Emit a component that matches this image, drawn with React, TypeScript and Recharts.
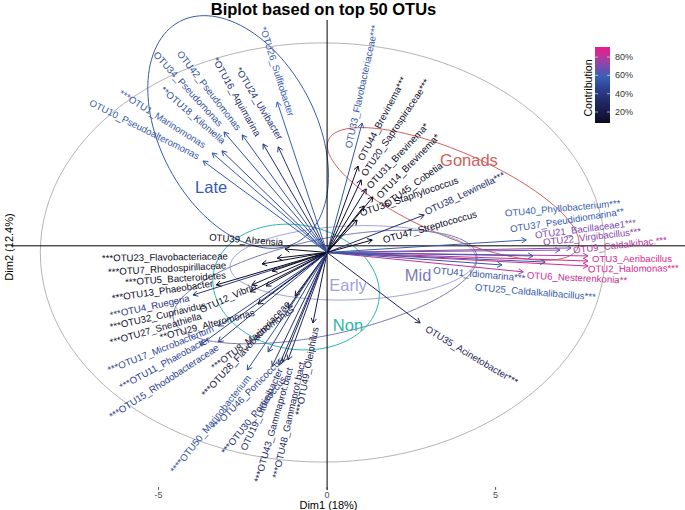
import {
    ScatterChart,
    Scatter,
    XAxis,
    YAxis,
    ReferenceLine,
    ReferenceArea,
    ReferenceDot
} from 'recharts';

const FONT = '"Liberation Sans", Arial, Helvetica, sans-serif';

// OTU loadings (Dim1, Dim2) and contribution (%), OTU1..OTU50
const otuLabels = [
    '***OTU1_Marinomonas', 'OTU2_Halomonas***', 'OTU3_Aeribacillus', '***OTU4_Ruegeria', '***OTU5_Bacteroidetes',
    'OTU6_Nesterenkonia**', '***OTU7_Rhodospirillaceae', '***OTU8_Marinomonas', 'OTU9_Caldalkibac.***', 'OTU10_Pseudoalteromonas',
    '***OTU11_Phaeobacter', 'OTU12_Vibrio', '***OTU13_Phaeobacter', 'OTU14_Brevinema*', '***OTU15_Rhodobacteraceae',
    '*OTU16_Aquimarina', '***OTU17_Microbacterium', '**OTU18_Kiloniella', 'OTU19_Litoreibacter', 'OTU20_Saprospiraceae***',
    'OTU21_Bacillaceae1***', 'OTU22_Virgibacillus***', '***OTU23_Flavobacteriaceae', '*OTU24_Ulvibacter', 'OTU25_Caldalkalibacillus***',
    '*OTU26_Sulfitobacter', '***OTU27_Sneathiella', '***OTU28_Flavobacteriaceae', '**OTU29_Alteromonas', '***OTU30_Porticoccus',
    'OTU31_Brevinema*', '***OTU32_Cupriavidus', 'OTU33_Flavobacteriaceae***', 'OTU34_Pseudomonas', 'OTU35_Acinetobacter***',
    'OTU36_Staphylococcus', 'OTU37_Pseudidiomarina**', 'OTU38_Lewinella***', 'OTU39_Ahrensia', 'OTU40_Phyllobacterium***',
    'OTU41_Idiomarina***', 'OTU42_Pseudomonas', '***OTU43_Gammaprot.bact', 'OTU44_Brevinema***', 'OTU45_Cobetia',
    '***OTU46_Porticoccus', 'OTU47_Streptococcus', '***OTU48_Gammaprot.bact.', '***OTU49_Oleiphilus', '****OTU50_Marinobacterium'
];

const dim1 = [
    -3.41, 7.74, 7.74, -3.98, -1.63, 5.82, -1.93, -1.16, 7.74, -3.68,
    -3.23, -1.81, -3.29, 1.36, -3.77, -1.90, -3.23, -3.12, -1.42, 1.01,
    6.91, 7.24, -1.48, -1.45, 6.47, -1.48, -2.28, -0.95, -2.05, -1.63,
    1.16, -2.23, 1.04, -3.06, 2.76, 0.89, 6.11, 2.88, -1.25, 5.91,
    5.19, -2.52, -1.31, 0.92, 1.10, -1.75, 1.34, -1.16, -0.42, -2.37
];

const dim2 = [
    3.74, -0.51, -0.32, -1.60, -0.70, -0.73, -0.43, -2.09, -0.13, 3.44,
    -3.36, -1.26, -1.22, 2.09, -3.48, 4.08, -2.77, 3.82, -4.23, 2.73,
    0.09, 0.17, -0.21, 3.97, -0.36, 5.66, -1.48, -1.64, -1.94, -4.27,
    2.39, -1.22, 4.87, 4.53, -2.65, 1.22, -0.13, 1.41, 0.13, 0.47,
    -0.47, 4.42, -4.12, 3.25, 1.75, -3.74, 0.47, -4.04, -2.65, -4.42
];

const contribution = [
    55, 86, 86, 40, 8, 82, 8, 14, 79, 55,
    45, 10, 9, 8, 45, 35, 47, 50, 34, 10,
    70, 72, 9, 38, 55, 58, 12, 14, 12, 36,
    8, 11, 55, 52, 28, 6, 56, 32, 8, 57,
    54, 52, 30, 12, 6, 44, 5, 30, 20, 52
];

// where each (repelled) label starts and ends, in Dim1/Dim2 units
const labelStart = [
    [-6.14, 6.03], [7.74, -0.62], [7.86, -0.21], [-6.44, -2.35], [-5.99, -1.11],
    [5.93, -0.85], [-6.50, -0.73], [-3.41, -4.34], [7.30, 0.09], [-7.03, 5.66],
    [-6.14, -5.06], [-3.77, -2.16], [-6.38, -1.71], [1.51, 2.09], [-6.44, -6.18],
    [-3.32, 7.31], [-6.50, -4.42], [-4.90, 6.18], [-2.49, -7.42], [1.07, 2.91],
    [6.17, 0.66], [6.41, 0.39], [-6.68, -0.21], [-2.64, 6.94], [4.39, -1.30],
    [-1.90, 8.48], [-6.44, -3.37], [-3.68, -5.36], [-4.96, -3.18], [-3.09, -7.54],
    [1.22, 2.46], [-6.44, -2.80], [0.62, 3.93], [-5.10, 7.50], [2.94, -2.84],
    [0.98, 1.48], [5.43, 0.88], [2.91, 1.52], [-3.50, 0.58], [5.28, 1.48],
    [3.15, -0.66], [-4.39, 7.54], [-2.08, -8.63], [0.98, 3.48], [1.72, 1.79],
    [-3.38, -6.60], [1.66, 0.47], [-1.54, -8.48], [-0.86, -6.11], [-4.60, -8.25]
];

const labelEnd = [
    [-3.56, 3.97], [10.18, -0.58], [10.24, -0.21], [-4.12, -1.71], [-3.03, -0.85],
    [8.75, -1.03], [-2.97, -0.47], [-1.31, -2.35], [9.97, 0.47], [-3.77, 3.59],
    [-3.47, -3.21], [-1.90, -1.11], [-3.38, -1.15], [3.35, 4.49], [-3.18, -3.48],
    [-2.08, 4.49], [-3.38, -2.84], [-3.18, 4.30], [-1.39, -4.34], [2.97, 6.48],
    [9.44, 1.18], [9.29, 0.81], [-2.94, -0.13], [-1.39, 4.30], [8.01, -1.67],
    [-1.04, 5.06], [-3.68, -2.35], [-1.10, -1.79], [-2.23, -2.27], [-1.75, -5.43],
    [3.00, 4.87], [-3.77, -2.01], [1.42, 8.55], [-3.09, 4.72], [5.67, -4.91],
    [3.86, 2.73], [8.61, 1.52], [5.34, 2.99], [-1.34, 0.39], [8.69, 1.86],
    [5.88, -0.96], [-2.58, 4.61], [-1.19, -4.68], [2.26, 6.56], [3.44, 3.36],
    [-1.75, -4.49], [4.48, 1.48], [-0.74, -4.04], [-0.36, -2.84], [-1.78, -3.78]
];

// group confidence ellipses: centre and two conjugate semi-axes
const groups = ['Late', 'Gonads', 'Early', 'Mid', 'Non'];
const groupColors = ['#3a5aa8', '#d0605c', '#a2a2dc', '#7a7ab8', '#2cb8a8'];
const ellipseCenter = [[-2.64, 4.53], [3.74, 2.20], [0.77, -0.39], [-0.06, -1.30], [-0.92, -1.30]];
const ellipseU = [[1.74, -4.15], [3.70, -2.03], [3.65, 0.16], [4.50, 1.21], [2.45, -0.55]];
const ellipseV = [[2.04, 1.38], [-0.50, -1.45], [0.04, -1.39], [0.30, -1.76], [-0.32, -2.30]];
const groupLabelPos = [[-3.44, 2.46], [4.21, 3.48], [0.62, -1.22], [2.70, -0.85], [0.62, -2.73]];

const xTicks = [-5, 0, 5];
const yTicks = [-5, 0, 5];
const legendTicks = [20, 40, 60, 80];
const legendRange = [8, 91];

const colorStops: [number, number[]][] = [
    [0, [0, 0, 8]], [15, [20, 20, 58]], [30, [32, 39, 96]], [45, [44, 64, 144]],
    [58, [55, 96, 180]], [68, [110, 80, 178]], [76, [160, 64, 159]], [85, [212, 42, 146]],
    [95, [240, 18, 138]]
];

function contribColor(c: number): string {
    for (let i = 1; i < colorStops.length; i++) {
        const [v1, c1] = colorStops[i];
        const [v0, c0] = colorStops[i - 1];
        if (c <= v1) {
            const t = Math.max(0, (c - v0) / (v1 - v0));
            const ch = c0.map((a, k) => Math.round(a + (c1[k] - a) * t));
            return `rgb(${ch[0]},${ch[1]},${ch[2]})`;
        }
    }
    const l = colorStops[colorStops.length - 1][1];
    return `rgb(${l[0]},${l[1]},${l[2]})`;
}

const otus = otuLabels.map((label, i) => ({
    label,
    x: dim1[i],
    y: dim2[i],
    color: contribColor(contribution[i]),
    start: labelStart[i],
    end: labelEnd[i]
}));

function ArrowShape(props: any) {
    const { x1, y1, x2, y2, color } = props;
    const ang = Math.atan2(y2 - y1, x2 - x1);
    const len = 5.5;
    const a = Math.PI / 6;
    const p1 = [x2 - len * Math.cos(ang - a), y2 - len * Math.sin(ang - a)];
    const p2 = [x2 - len * Math.cos(ang + a), y2 - len * Math.sin(ang + a)];
    return (
        <g>
            <line x1={x1} y1={y1} x2={x2} y2={y2} stroke={color} strokeWidth={1} />
            <polyline points={`${p1[0]},${p1[1]} ${x2},${y2} ${p2[0]},${p2[1]}`} fill="none" stroke={color} strokeWidth={1} />
        </g>
    );
}

function LabelShape(props: any) {
    const { x1, y1, x2, y2, color, text } = props;
    const deg = Math.atan2(y2 - y1, x2 - x1) * 180 / Math.PI;
    return (
        <text x={x1} y={y1} transform={`rotate(${deg} ${x1} ${y1})`} fill={color}
            fontSize={9.6} fontFamily={FONT} dominantBaseline="central">{text}</text>
    );
}

function EllipseShape(props: any) {
    const { x, y, width, height, u, v, color } = props;
    const cx = x + width / 2, cy = y + height / 2;
    const sx = Math.abs(width) / 2, sy = Math.abs(height) / 2;
    const pts: string[] = [];
    for (let k = 0; k <= 120; k++) {
        const t = (k / 120) * Math.PI * 2;
        const dx = Math.cos(t) * u[0] + Math.sin(t) * v[0];
        const dy = Math.cos(t) * u[1] + Math.sin(t) * v[1];
        pts.push(`${cx + dx * sx},${cy - dy * sy}`);
    }
    return <polyline points={pts.join(' ')} fill="none" stroke={color} strokeWidth={1} />;
}

const XTick = (p: any) => (
    <g>
        <line x1={p.x} x2={p.x} y1={p.y - 3} y2={p.y} stroke="#333" strokeWidth={0.8} />
        <text x={p.x} y={p.y + 5} textAnchor="middle" dominantBaseline="central"
            fontSize={9} fontFamily={FONT} fill="#4d4d4d">{p.payload.value}</text>
    </g>
);

const YTick = (p: any) => (
    <g>
        <line x1={p.x + 16} x2={p.x + 19} y1={p.y} y2={p.y} stroke="#333" strokeWidth={0.8} />
        <text x={p.x + 13} y={p.y} textAnchor="end" dominantBaseline="central"
            fontSize={9} fontFamily={FONT} fill="#4d4d4d">{p.payload.value}</text>
    </g>
);

export default function App() {
    const legTop = 47, legBottom = 123;
    const legY = (c: number) => legBottom - (c - legendRange[0]) / (legendRange[1] - legendRange[0]) * (legBottom - legTop);
    const gradStops = [];
    for (let c = legendRange[0]; c <= legendRange[1]; c += 4) gradStops.push(c);
    gradStops.push(legendRange[1]);

    return (
        <div style={{ position: 'absolute', left: 0, top: 0, width: 685, height: 510, background: '#fff' }}>
            <ScatterChart width={685} height={510} margin={{ top: 20, right: 0, bottom: 0, left: 11 }}
                style={{ position: 'absolute', left: 0, top: 0 }}>
                <XAxis type="number" dataKey="x" domain={[-9.38, 10.62]} ticks={xTicks} height={20}
                    axisLine={false} tickLine={false} tickSize={0} tickMargin={0} tick={XTick} allowDataOverflow />
                <YAxis type="number" dataKey="y" domain={[-8.93, 8.74]} ticks={yTicks} width={0}
                    axisLine={false} tickLine={false} tickSize={0} tickMargin={0} tick={YTick} allowDataOverflow />

                {/* correlation circle */}
                <ReferenceArea x1={-1.13} x2={0.87} y1={-1} y2={1} ifOverflow="visible"
                    shape={(p: any) => <EllipseShape {...p} u={[8.38, 0]} v={[0, 7.88]} color="#b4b4b4" />} />

                {groups.map((g, i) => (
                    <ReferenceArea key={'e' + g} x1={ellipseCenter[i][0] - 1} x2={ellipseCenter[i][0] + 1}
                        y1={ellipseCenter[i][1] - 1} y2={ellipseCenter[i][1] + 1} ifOverflow="visible"
                        shape={(p: any) => <EllipseShape {...p} u={ellipseU[i]} v={ellipseV[i]} color={groupColors[i]} />} />
                ))}

                {/* zero lines (the horizontal one sits a little above y = 0 in the original) */}
                <ReferenceLine x={0} stroke="#000" strokeWidth={1} />
                <ReferenceLine y={0.25} stroke="#000" strokeWidth={1} />

                {otus.map((o) => (
                    <ReferenceLine key={'a' + o.label} segment={[{ x: 0, y: 0 }, { x: o.x, y: o.y }]} ifOverflow="visible"
                        shape={(p: any) => <ArrowShape {...p} color={o.color} />} />
                ))}

                {otus.map((o) => (
                    <ReferenceLine key={'l' + o.label}
                        segment={[{ x: o.start[0], y: o.start[1] }, { x: o.end[0], y: o.end[1] }]} ifOverflow="visible"
                        shape={(p: any) => <LabelShape {...p} color={o.color} text={o.label} />} />
                ))}

                {groups.map((g, i) => (
                    <ReferenceDot key={'g' + g} x={groupLabelPos[i][0]} y={groupLabelPos[i][1]} ifOverflow="visible"
                        shape={(p: any) => (
                            <text x={p.cx} y={p.cy} textAnchor="middle" dominantBaseline="central"
                                fontSize={16.5} fontFamily={FONT} fill={groupColors[i]}>{g}</text>
                        )} />
                ))}

                <Scatter data={otus} isAnimationActive={false} shape={() => <g />} />
            </ScatterChart>

            <svg width={685} height={510} style={{ position: 'absolute', left: 0, top: 0, pointerEvents: 'none' }}>
                <defs>
                    <linearGradient id="contribGrad" x1="0" y1="1" x2="0" y2="0">
                        {gradStops.map((c) => (
                            <stop key={c} offset={(c - legendRange[0]) / (legendRange[1] - legendRange[0])} stopColor={contribColor(c)} />
                        ))}
                    </linearGradient>
                </defs>
                <text x={323.5} y={15} textAnchor="middle" fontSize={16.5} fontWeight="bold" fontFamily={FONT} fill="#000">
                    Biplot based on top 50 OTUs
                </text>
                <text x={328.5} y={505} textAnchor="middle" dominantBaseline="central" fontSize={11} fontFamily={FONT} fill="#000">
                    Dim1 (18%)
                </text>
                <text x={9} y={247} textAnchor="middle" dominantBaseline="central" fontSize={11} fontFamily={FONT} fill="#000"
                    transform="rotate(-90 9 247)">
                    Dim2 (12.4%)
                </text>

                <rect x={595} y={legTop} width={15} height={legBottom - legTop} fill="url(#contribGrad)" />
                {legendTicks.map((t) => (
                    <g key={t}>
                        <line x1={595} x2={598} y1={legY(t)} y2={legY(t)} stroke="#fff" strokeOpacity={0.6} />
                        <line x1={607} x2={610} y1={legY(t)} y2={legY(t)} stroke="#fff" strokeOpacity={0.6} />
                        <text x={615} y={legY(t)} dominantBaseline="central" fontSize={9} fontFamily={FONT} fill="#333">{t}%</text>
                    </g>
                ))}
                <text x={588} y={88} textAnchor="middle" dominantBaseline="central" fontSize={10.6} fontFamily={FONT} fill="#000"
                    transform="rotate(-90 588 88)">
                    Contribution
                </text>
            </svg>
        </div>
    );
}
